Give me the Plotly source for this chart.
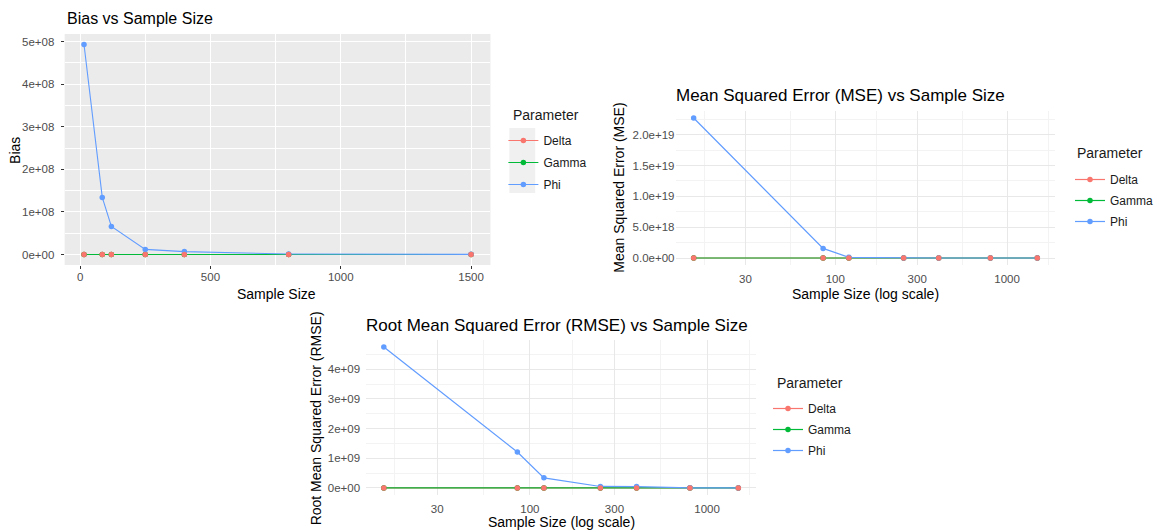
import math
import plotly.graph_objects as go

# ---------------- data ----------------
sample_sizes = [15, 85, 120, 250, 400, 800, 1500]
parameters = ["Delta", "Gamma", "Phi"]

bias_delta = [0.9, 0.5, 0.4, 0.3, 0.2, 0.1, 0.05]
bias_gamma = [1.2, 0.7, 0.5, 0.35, 0.25, 0.15, 0.08]
bias_phi = [4.93e8, 1.34e8, 6.6e7, 1.2e7, 6.8e6, 1.0e6, 3.0e5]

mse_delta = [2.0, 0.8, 0.5, 0.3, 0.2, 0.1, 0.05]
mse_gamma = [3.0, 1.2, 0.8, 0.4, 0.3, 0.15, 0.08]
mse_phi = [2.27e19, 1.55e18, 1.1e17, 2.5e15, 2.0e15, 1.0e13, 1.0e12]

rmse_delta = [1.4, 0.9, 0.7, 0.55, 0.45, 0.3, 0.2]
rmse_gamma = [1.7, 1.1, 0.9, 0.6, 0.5, 0.4, 0.3]
rmse_phi = [4.75e9, 1.21e9, 3.4e8, 5.0e7, 4.5e7, 3.0e6, 1.0e6]

bias_yticks = [0, 1e8, 2e8, 3e8, 4e8, 5e8]
bias_yticklabels = ["0e+00", "1e+08", "2e+08", "3e+08", "4e+08", "5e+08"]
bias_xticks = [0, 500, 1000, 1500]
bias_xticklabels = ["0", "500", "1000", "1500"]

mse_yticks = [0, 5e18, 1e19, 1.5e19, 2e19]
mse_yticklabels = ["0.0e+00", "5.0e+18", "1.0e+19", "1.5e+19", "2.0e+19"]

rmse_yticks = [0, 1e9, 2e9, 3e9, 4e9]
rmse_yticklabels = ["0e+00", "1e+09", "2e+09", "3e+09", "4e+09"]

log_xticks = [30, 100, 300, 1000]
log_xticklabels = ["30", "100", "300", "1000"]
log_xminor = [17.32, 54.77, 173.2, 547.7, 1732]

# ---------------- style ----------------
W, H = 1158, 532
COLORS = {"Delta": "#F8766D", "Gamma": "#00BA38", "Phi": "#619CFF"}
FONT = "Liberation Sans, Arial, sans-serif"
TICK_COLOR = "#4D4D4D"


def px(x):
    return x / W


def py(y):
    return 1 - y / H


def lin_range(vals, pad=0.05):
    lo, hi = min(vals), max(vals)
    d = hi - lo
    return [lo - pad * d, hi + pad * d]


def log_range(vals, pad=0.05):
    lo, hi = math.log10(min(vals)), math.log10(max(vals))
    d = hi - lo
    return [lo - pad * d, hi + pad * d]


fig = go.Figure()


def add_panel(series, xa, ya, legend, lw, ms):
    for name in parameters:
        fig.add_trace(go.Scatter(
            x=sample_sizes, y=series[name], name=name, mode="lines+markers",
            line=dict(color=COLORS[name], width=lw),
            marker=dict(color=COLORS[name], size=ms),
            xaxis=xa, yaxis=ya, legend=legend, legendgroup=legend + name,
        ))
    fig.add_trace(go.Scatter(
        x=sample_sizes, y=series["Delta"], mode="markers", showlegend=False,
        marker=dict(color=COLORS["Delta"], size=ms), xaxis=xa, yaxis=ya,
        hoverinfo="skip",
    ))


add_panel({"Delta": bias_delta, "Gamma": bias_gamma, "Phi": bias_phi}, "x", "y", "legend", 1.1, 5.5)
add_panel({"Delta": mse_delta, "Gamma": mse_gamma, "Phi": mse_phi}, "x2", "y2", "legend2", 1.2, 5.5)
add_panel({"Delta": rmse_delta, "Gamma": rmse_gamma, "Phi": rmse_phi}, "x3", "y3", "legend3", 1.2, 5.5)

tickfont = dict(family=FONT, size=11.5, color=TICK_COLOR)

# Panel 1 (ggplot grey theme)
fig.update_layout(
    xaxis=dict(
        domain=[px(65), px(493)], anchor="y",
        range=lin_range(sample_sizes),
        tickmode="array", tickvals=bias_xticks, ticktext=bias_xticklabels,
        ticks="outside", ticklen=3, tickcolor="#333333", tickwidth=1,
        ticklabelstandoff=-2,
        tickfont=tickfont, showgrid=True, gridcolor="white", gridwidth=1.1,
        minor=dict(tickmode="linear", tick0=0, dtick=250, showgrid=True,
                   gridcolor="white", gridwidth=0.5, ticks=""),
        zeroline=False, showline=False,
    ),
    yaxis=dict(
        domain=[py(265), py(34)], anchor="x",
        range=lin_range(bias_phi + bias_delta + bias_gamma),
        tickmode="array", tickvals=bias_yticks, ticktext=bias_yticklabels,
        ticks="outside", ticklen=3, tickcolor="#333333", tickwidth=1,
        ticklabelstandoff=4,
        tickfont=tickfont, showgrid=True, gridcolor="white", gridwidth=1.1,
        minor=dict(tickmode="linear", tick0=0, dtick=5e7, showgrid=True,
                   gridcolor="white", gridwidth=0.5, ticks=""),
        zeroline=False, showline=False,
    ),
)

minimal_grid = dict(showgrid=True, gridcolor="#E8E8E8", gridwidth=1.1,
                    zeroline=False, showline=False, ticks="", tickfont=tickfont)

fig.update_layout(
    xaxis2=dict(
        domain=[px(680), px(1060)], anchor="y2", type="log",
        range=log_range(sample_sizes),
        tickmode="array", tickvals=log_xticks, ticktext=log_xticklabels,
        minor=dict(tickmode="array", tickvals=log_xminor, showgrid=True,
                   gridcolor="#F3F3F3", gridwidth=1, ticks=""),
        ticklabelstandoff=5, **minimal_grid,
    ),
    yaxis2=dict(
        domain=[py(265), py(111)], anchor="x2",
        range=lin_range(mse_phi + mse_delta + mse_gamma),
        tickmode="array", tickvals=mse_yticks, ticktext=mse_yticklabels,
        minor=dict(tickmode="linear", tick0=0, dtick=2.5e18, showgrid=True,
                   gridcolor="#F3F3F3", gridwidth=1, ticks=""),
        ticklabelstandoff=1, **minimal_grid,
    ),
    xaxis3=dict(
        domain=[px(368), px(760)], anchor="y3", type="log",
        range=log_range(sample_sizes),
        tickmode="array", tickvals=log_xticks, ticktext=log_xticklabels,
        minor=dict(tickmode="array", tickvals=log_xminor, showgrid=True,
                   gridcolor="#F3F3F3", gridwidth=1, ticks=""),
        ticklabelstandoff=5, **minimal_grid,
    ),
    yaxis3=dict(
        domain=[py(495), py(340)], anchor="x3",
        range=lin_range(rmse_phi + rmse_delta + rmse_gamma),
        tickmode="array", tickvals=rmse_yticks, ticktext=rmse_yticklabels,
        minor=dict(tickmode="linear", tick0=0, dtick=5e8, showgrid=True,
                   gridcolor="#F3F3F3", gridwidth=1, ticks=""),
        ticklabelstandoff=5, **minimal_grid,
    ),
)

# grey panel background for panel 1
fig.add_shape(type="rect", xref="x domain", yref="y domain", x0=0, x1=1, y0=0, y1=1,
              fillcolor="#EBEBEB", line=dict(width=0), layer="below")
# grey legend-key column for panel 1's legend
fig.add_shape(type="rect", xref="paper", yref="paper",
              x0=px(512), x1=px(538), y0=py(193), y1=py(128),
              fillcolor="#F0F0F0", line=dict(width=0), layer="below")


def legend_cfg(x, y, gap):
    return dict(
        x=px(x), y=py(y), xanchor="left", yanchor="top",
        font=dict(family=FONT, size=12, color="#1A1A1A"),
        bgcolor="rgba(0,0,0,0)", borderwidth=0, tracegroupgap=gap,
    )


fig.update_layout(
    legend=legend_cfg(506, 126, 3),
    legend2=legend_cfg(1076, 165, 2),
    legend3=legend_cfg(772, 394, 2),
)


# titles, axis titles and legend titles as annotations
def note(text, x, y, size, xanchor="left", angle=0, color="#000000"):
    fig.add_annotation(text=text, x=px(x), y=py(y), xref="paper", yref="paper",
                       xanchor=xanchor, yanchor="middle", showarrow=False,
                       textangle=angle, font=dict(family=FONT, size=size, color=color))


note("Bias vs Sample Size", 65, 19, 16)
note("Sample Size", 278, 294, 14, "center")
note("Bias", 15, 150, 14, "center", -90)
note("Parameter", 514, 115, 14, color="#1A1A1A")

note("Mean Squared Error (MSE) vs Sample Size", 678, 95, 17)
note("Sample Size (log scale)", 870, 294, 14, "center")
note("Mean Squared Error (MSE)", 622, 188, 14, "center", -90)
note("Parameter", 1081, 153, 14, color="#1A1A1A")

note("Root Mean Squared Error (RMSE) vs Sample Size", 366, 325, 17)
note("Sample Size (log scale)", 564, 522, 14, "center")
note("Root Mean Squared Error (RMSE)", 318, 418, 14, "center", -90)
note("Parameter", 779, 383, 14, color="#1A1A1A")

fig.update_layout(
    width=W, height=H, margin=dict(l=0, r=0, t=0, b=0),
    paper_bgcolor="white", plot_bgcolor="rgba(0,0,0,0)",
    font=dict(family=FONT), showlegend=True,
)

fig.write_html("out.html")
